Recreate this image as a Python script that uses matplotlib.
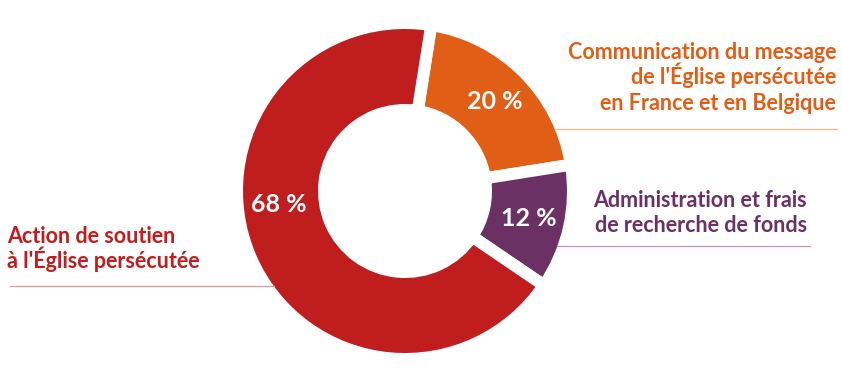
import matplotlib.pyplot as plt
import numpy as np

# données
parts = [20, 12, 68]
pct_labels = ["20 %", "12 %", "68 %"]
colors = ["#E05E16", "#6B3064", "#C01D1E"]
line_colors = ["#F2B58F", "#B797B3", "#E59595"]
cat_lines = [
    ["Communication du message", "de l'Église persécutée", "en France et en Belgique"],
    ["Administration et frais", "de recherche de fonds"],
    ["Action de soutien", "à l'Église persécutée"],
]

plt.rcParams['font.family'] = ['Lato', 'DejaVu Sans']

W, H = 842, 368
fig = plt.figure(figsize=(W / 100, H / 100), dpi=100)
ax = fig.add_axes([0, 0, 1, 1])

cx, cy = 405, H - 191
R = 168
gap = 12  # px

wedges, _ = ax.pie(parts, colors=colors, startangle=81, counterclock=False,
                   radius=R, center=(cx, cy), frame=True,
                   wedgeprops=dict(width=R - 81, edgecolor='white', linewidth=gap * 0.72))
ax.set_xlim(0, W)
ax.set_ylim(0, H)
ax.set_aspect('equal')
ax.axis('off')

# pourcentages
dist = 127
for i, w in enumerate(wedges):
    ang = (w.theta1 + w.theta2) / 2
    if i == 2:
        ang = 186  # le 68 % est un peu remonté
    x = cx + dist * np.cos(np.radians(ang))
    y = cy + dist * np.sin(np.radians(ang))
    ax.text(x, y, pct_labels[i], color='white', fontsize=18, fontweight='bold',
            ha='center', va='center')


def ring_x(y, side):
    # bord extérieur visible de l'anneau à la hauteur y
    r = R - gap / 2
    return cx + side * np.sqrt(r ** 2 - (y - cy) ** 2)


# libellés
fs = 15.5
step = 25.5
# orange
for k, t in enumerate(cat_lines[0]):
    ax.text(836, H - 59 - k * step, t, color=colors[0], fontsize=fs, fontweight='bold',
            ha='right', va='baseline')
y0 = H - 129
ax.plot([ring_x(y0, 1), 837], [y0, y0], color=line_colors[0], lw=0.9)
# violet
for k, t in enumerate(cat_lines[1]):
    ax.text(807, H - 207 - k * step, t, color=colors[1], fontsize=fs, fontweight='bold',
            ha='right', va='baseline')
y1 = H - 246
ax.plot([ring_x(y1, 1), 810], [y1, y1], color=line_colors[1], lw=0.9)
# rouge
for k, t in enumerate(cat_lines[2]):
    ax.text(7, H - 243 - k * step, t, color=colors[2], fontsize=fs, fontweight='bold',
            ha='left', va='baseline')
y2 = H - 286
ax.plot([10, ring_x(y2, -1)], [y2, y2], color=line_colors[2], lw=0.9)

fig.savefig('out.png', dpi=100)
